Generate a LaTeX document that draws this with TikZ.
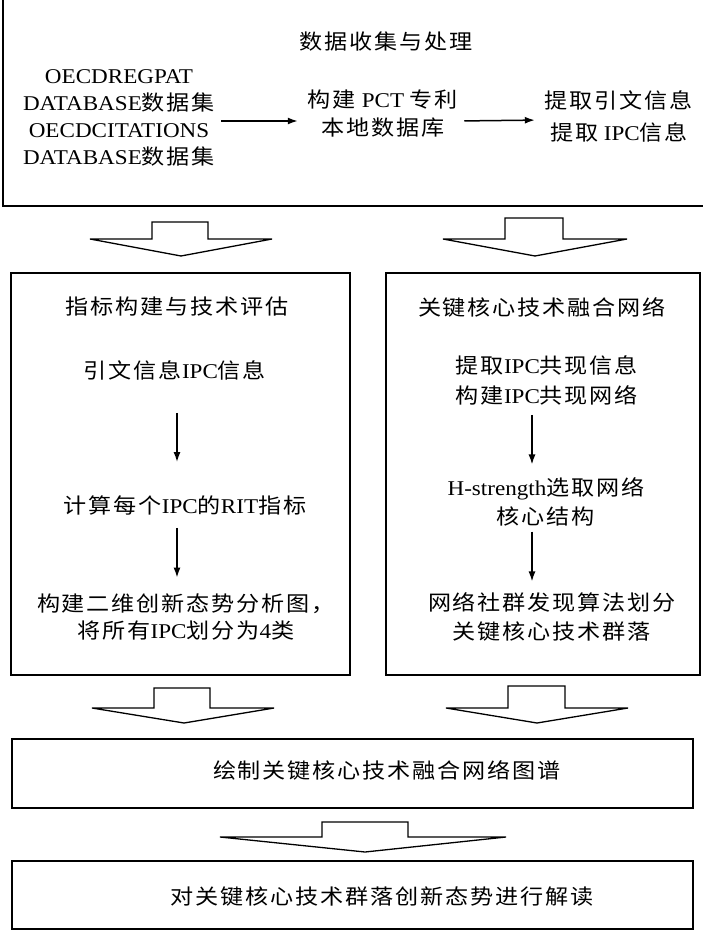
\documentclass[tikz,border=0pt]{standalone}
\usepackage{fontspec}
\setmainfont{Noto Sans CJK SC}[FakeStretch=1.1, LetterSpace=9]
\newfontfamily\enfont{Liberation Serif}[FakeStretch=1.1]
\newcommand\en[1]{{\enfont #1}}
\usetikzlibrary{arrows.meta}

\tikzset{
  txt/.style={inner sep=0pt, align=center, font=\fontsize{21}{28}\selectfont},
  frame/.style={draw, line width=1.5pt},
  fat/.style={draw, line width=1.3pt, line join=miter},
  flow/.style={-{Latex[length=10pt,width=7pt]}, line width=1.5pt}
}

\begin{document}
\begin{tikzpicture}[x=1pt,y=-1pt]
\useasboundingbox (0,0) rectangle (702,933);

% 数据收集与处理
\draw[frame] (3,-5) rectangle (710,206);
\node[txt] (title1) at (386,42) {数据收集与处理};
\node[txt, font=\fontsize{21}{27}\selectfont] (src) at (119,118)
  {\en{OECDREGPAT}\\\en{DATABASE}数据集\\\en{OECDCITATIONS}\\\en{DATABASE}数据集};
\node[txt] (pct) at (383,114) {构建\en{\ PCT\ }专利\\本地数据库};
\node[txt, font=\fontsize{21}{32}\selectfont] (ext) at (619,116) {提取引文信息\\提取\en{\ IPC}信息};
\draw[flow, shorten <=6pt, shorten >=10pt] ([yshift=-3pt]src.east) -- ([yshift=-7pt]pct.west);
\draw[flow, shorten <=6pt, shorten >=10pt] ([yshift=-7pt]pct.east) -- ([yshift=-4pt]ext.west);

% 块箭头
\draw[fat] (152,222) -- (208,222) -- (208,239) -- (272,239) -- (181,256) -- (90,239) -- (152,239) -- cycle;
\draw[fat] (505,218) -- (563,218) -- (563,239) -- (627,239) -- (535,256) -- (443,239) -- (505,239) -- cycle;

% 指标构建与技术评估
\draw[frame] (11,273) rectangle (350,675);
\coordinate (lx) at (177,0);
\node[txt] (ltitle) at (177,307) {指标构建与技术评估};
\node[txt] (cite) at (175,370) {引文信息\en{IPC}信息};
\node[txt] (rit) at (185,505) {计算每个\en{IPC}的\en{RIT}指标};
\node[txt, font=\fontsize{21}{27}\selectfont] (quad) at (186,617) {构建二维创新态势分析图，\\将所有\en{IPC}划分为\en{4}类};
\draw[flow, shorten <=33pt, shorten >=33pt] (cite.south -| lx) -- (rit.north -| lx);
\draw[flow, shorten <=13pt, shorten >=16pt] (rit.south -| lx) -- (quad.north -| lx);

% 关键核心技术融合网络
\draw[frame] (386,273) rectangle (700,675);
\coordinate (rx) at (532,0);
\node[txt] (rtitle) at (542,307) {关键核心技术融合网络};
\node[txt, font=\fontsize{21}{30}\selectfont] (cooc) at (547,380) {提取\en{IPC}共现信息\\构建\en{IPC}共现网络};
\node[txt, font=\fontsize{21}{29}\selectfont] (hstr) at (546,502) {\en{H-strength}选取网络\\核心结构};
\node[txt, font=\fontsize{21}{29}\selectfont] (comm) at (552,617) {网络社群发现算法划分\\关键核心技术群落};
\draw[flow, shorten <=10pt, shorten >=13pt] (cooc.south -| rx) -- (hstr.north -| rx);
\draw[flow, shorten <=5pt, shorten >=11pt] (hstr.south -| rx) -- (comm.north -| rx);

% 块箭头
\draw[fat] (154,688) -- (210,688) -- (210,708) -- (274,708) -- (184,723) -- (92,708) -- (154,708) -- cycle;
\draw[fat] (508,686) -- (565,686) -- (565,708) -- (628,708) -- (537,723) -- (446,708) -- (508,708) -- cycle;

% 图谱与解读
\draw[frame] (12,739) rectangle (693,808);
\node[txt] (map) at (387,770) {绘制关键核心技术融合网络图谱};
\draw[fat] (322,822) -- (408,822) -- (408,837) -- (506,837) -- (365,852) -- (220,837) -- (322,837) -- cycle;
\draw[frame] (12,861) rectangle (693,929);
\node[txt] (read) at (382,897) {对关键核心技术群落创新态势进行解读};

\end{tikzpicture}
\end{document}
